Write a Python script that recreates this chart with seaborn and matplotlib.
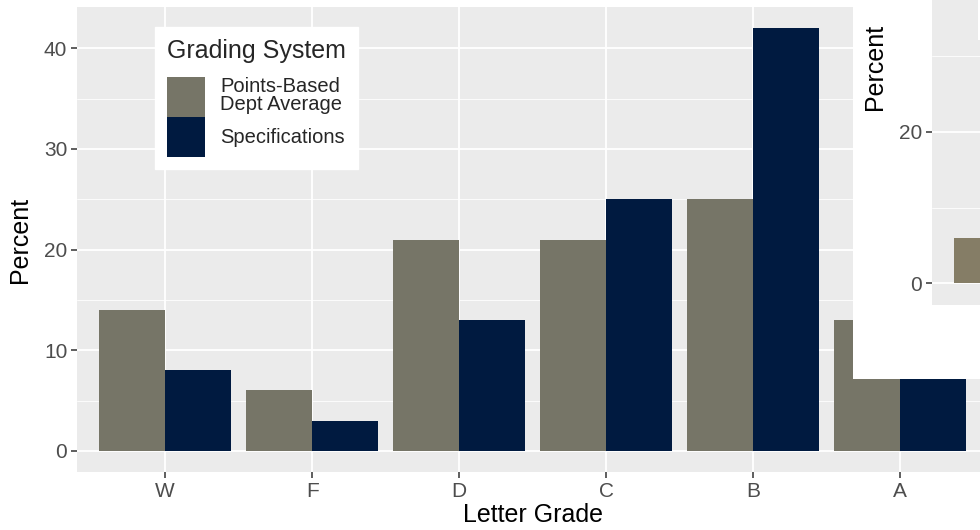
import matplotlib
matplotlib.use("Agg")
import matplotlib.pyplot as plt
from matplotlib.patches import Rectangle
import seaborn as sns
import pandas as pd

# main chart data
grades = ["W", "F", "D", "C", "B", "A"]
systems = ["Points-Based\nDept Average", "Specifications"]
points_based = [14, 6, 21, 21, 25, 13]
specifications = [8, 3, 13, 25, 42, 9]

# overlapping inset chart (only a sliver visible)
inset_grades = ["W"]
inset_points = [6]

gray = "#767567"
navy = "#001a40"
inset_gray = "#857d66"

sns.set_theme(style="darkgrid", rc={"axes.facecolor": "#EBEBEB"})
plt.rcParams["font.family"] = ["Liberation Sans", "DejaVu Sans"]

df = pd.DataFrame({
    "grade": grades * 2,
    "percent": points_based + specifications,
    "system": [systems[0]] * len(grades) + [systems[1]] * len(grades),
})

fig = plt.figure(figsize=(9.8, 5.3), dpi=100)
W, H = 980, 530


def style_axes(a):
    for s in a.spines.values():
        s.set_visible(False)
    a.set_facecolor("#EBEBEB")
    a.grid(which="major", color="white", linewidth=1.3)
    a.grid(which="minor", color="white", linewidth=0.6)
    a.tick_params(which="major", length=4, width=1.1, color="#333333",
                  labelcolor="#4d4d4d", labelsize=15, pad=3,
                  bottom=True, left=True)
    a.tick_params(which="minor", length=0)
    a.set_axisbelow(True)


# main panel (extends past the right edge, as in the cropped original)
ax = fig.add_axes([77 / W, 1 - 472 / H, 911.4 / W, 465 / H])
sns.barplot(data=df, x="grade", y="percent", hue="system", order=grades,
            hue_order=systems, palette=[gray, navy], width=0.9, gap=0,
            linewidth=0, saturation=1, errorbar=None, ax=ax)
ax.set_xlim(-0.6, 5.6)
ax.set_ylim(-2.1, 44.1)
ax.set_yticks([0, 10, 20, 30, 40])
ax.set_yticks([5, 15, 25, 35], minor=True)
style_axes(ax)
ax.set_xlabel("Letter Grade", fontsize=18, color="black", labelpad=2)
ax.set_ylabel("Percent", fontsize=18, color="black")
ax.yaxis.set_label_coords(-0.049, 0.5)

handles, labels = ax.get_legend_handles_labels()
ax.get_legend().remove()
leg = ax.legend(handles, labels, title="Grading System",
                loc="upper left", bbox_to_anchor=(0.0856, 0.957),
                fontsize=14.5, title_fontsize=18, frameon=True,
                fancybox=False, facecolor="white", edgecolor="white",
                framealpha=1, handlelength=1.9, handleheight=2.68,
                labelspacing=0, handletextpad=0.75, borderpad=0.6,
                borderaxespad=0, alignment="left")
for t in leg.get_texts():
    t.set_linespacing(0.95)
leg._legend_box.sep = 10

# white backing of the overlapping second chart
fig.add_artist(Rectangle((853 / W, 1 - 379 / H), 127 / W, 379 / H,
                         transform=fig.transFigure, facecolor="white",
                         edgecolor="none", zorder=1))

ax2 = fig.add_axes([932 / W, 1 - 305 / H, 48 / W, 305 / H], zorder=2)
sns.barplot(x=inset_grades, y=inset_points, color=inset_gray, width=0.45,
            linewidth=0, saturation=1, errorbar=None, ax=ax2)
ax2.set_xlim(-0.375, -0.375 + 48 / 147)
ax2.set_ylim(-2.91, 37.48)
ax2.set_yticks([0, 20])
ax2.set_yticks([10, 30], minor=True)
ax2.set_xticks([])
style_axes(ax2)
ax2.set_ylabel("Percent", fontsize=18, color="black")
ax2.yaxis.set_label_coords(-0.94, 0.78)

fig.add_artist(Rectangle((977.5 / W, 1 - 40 / H), 2.5 / W, 40 / H,
                         transform=fig.transFigure, facecolor="white",
                         edgecolor="none", zorder=3))

fig.savefig("out.png", dpi=100)
